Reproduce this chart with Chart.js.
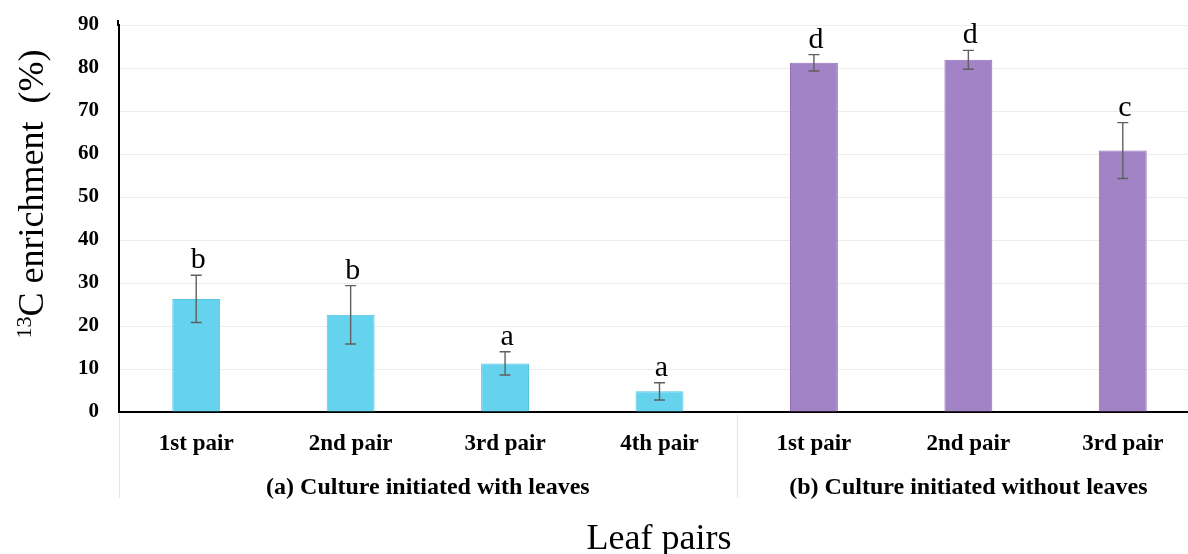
<!DOCTYPE html>
<html>
<head>
<meta charset="utf-8">
<script src="https://cdn.jsdelivr.net/npm/chart.js@4/dist/chart.umd.min.js"></script>
<style>
  html, body { margin: 0; padding: 0; background: #fff; overflow: hidden; }
  #wrap { width: 1210px; height: 554px; }
</style>
</head>
<body>
<div id="wrap"><canvas id="c" width="1210" height="554"></canvas></div>
<script>
// Leaf pair categories and the two culture groups they belong to
const categories = ['1st pair', '2nd pair', '3rd pair', '4th pair', '1st pair', '2nd pair', '3rd pair'];
const groupLabels = ['(a) Culture initiated with leaves', '(b) Culture initiated without leaves'];
const groupSizes = [4, 3];

// 13C enrichment (%) — culture initiated with leaves
const withLeaves = [26.3, 22.6, 11.3, 4.8];
const withLeavesErr = [5.5, 6.8, 2.7, 2.0];
const withLeavesLetters = ['b', 'b', 'a', 'a'];

// 13C enrichment (%) — culture initiated without leaves
const withoutLeaves = [81.2, 81.9, 60.8];
const withoutLeavesErr = [1.9, 2.2, 6.5];
const withoutLeavesLetters = ['d', 'd', 'c'];

const yTicks = [0, 10, 20, 30, 40, 50, 60, 70, 80, 90];

const SERIF = '"Liberation Serif", "Times New Roman", serif';

// Pad each series to full category length so each bar sits in its own slot
const padA = withLeaves.concat(new Array(withoutLeaves.length).fill(null));
const padB = new Array(withLeaves.length).fill(null).concat(withoutLeaves);
const errA = withLeavesErr.concat(new Array(withoutLeaves.length).fill(null));
const errB = new Array(withLeaves.length).fill(null).concat(withoutLeavesErr);
const letA = withLeavesLetters.concat(new Array(withoutLeaves.length).fill(null));
const letB = new Array(withLeaves.length).fill(null).concat(withoutLeavesLetters);

// Error bars, significance letters, group labels and axis titles
const annotations = {
  id: 'annotations',
  afterDatasetsDraw(chart) {
    const ctx = chart.ctx;
    const y = chart.scales.y;
    const x = chart.scales.x;
    ctx.save();

    // value axis line runs a little past the top gridline
    ctx.strokeStyle = '#000';
    ctx.lineWidth = 2;
    ctx.beginPath();
    ctx.moveTo(y.right - 1, y.top - 5);
    ctx.lineTo(y.right - 1, y.top + 1);
    ctx.stroke();

    chart.data.datasets.forEach((ds, di) => {
      const meta = chart.getDatasetMeta(di);
      ds.data.forEach((v, i) => {
        if (v == null) return;
        const bar = meta.data[i];
        const e = ds.errors[i];
        const yTop = y.getPixelForValue(v + e);
        const yBot = y.getPixelForValue(v - e);
        ctx.strokeStyle = '#5f5f5f';
        ctx.lineWidth = 1.4;
        ctx.beginPath();
        ctx.moveTo(bar.x, yTop); ctx.lineTo(bar.x, yBot);
        ctx.moveTo(bar.x - 5.5, yTop); ctx.lineTo(bar.x + 5.5, yTop);
        ctx.moveTo(bar.x - 5.5, yBot); ctx.lineTo(bar.x + 5.5, yBot);
        ctx.stroke();
        ctx.fillStyle = '#000';
        ctx.font = '30px ' + SERIF;
        ctx.textAlign = 'center';
        ctx.textBaseline = 'alphabetic';
        ctx.fillText(ds.letters[i], bar.x + 2, yTop - 7);
      });
    });

    // category separators and group labels below the axis
    const step = x.getPixelForValue(1) - x.getPixelForValue(0);
    let start = 0;
    const bounds = [x.getPixelForValue(0) - step / 2];
    groupSizes.forEach(n => {
      start += n;
      bounds.push(x.getPixelForValue(start - 1) + step / 2);
    });
    ctx.strokeStyle = '#e4e4e4';
    ctx.lineWidth = 1;
    ctx.beginPath();
    bounds.forEach(b => {
      const bx = Math.round(b) + 0.5;
      ctx.moveTo(bx, y.bottom + 2);
      ctx.lineTo(bx, 498);
    });
    ctx.stroke();
    ctx.fillStyle = '#000';
    ctx.font = 'bold 24px ' + SERIF;
    ctx.textAlign = 'center';
    ctx.textBaseline = 'alphabetic';
    groupLabels.forEach((g, gi) => {
      ctx.fillText(g, (bounds[gi] + bounds[gi + 1]) / 2, 494);
    });

    // x axis title
    ctx.font = '36px ' + SERIF;
    ctx.fillText('Leaf pairs', 659, 549);

    // y axis title with superscript mass number
    ctx.translate(43, 194);
    ctx.rotate(-Math.PI / 2);
    const main = 'C enrichment  (%)';
    ctx.font = '36px ' + SERIF;
    const wMain = ctx.measureText(main).width;
    ctx.font = '22px ' + SERIF;
    const wSup = ctx.measureText('13').width;
    const total = wMain + wSup;
    ctx.textAlign = 'left';
    ctx.fillText('13', -total / 2, -12);
    ctx.font = '36px ' + SERIF;
    ctx.fillText(main, -total / 2 + wSup, 0);
    ctx.restore();
  }
};

new Chart(document.getElementById('c'), {
  type: 'bar',
  data: {
    labels: categories,
    datasets: [
      {
        label: 'With leaves',
        data: padA,
        errors: errA,
        letters: letA,
        backgroundColor: '#66d3ee',
        borderColor: '#52c4e4',
        borderWidth: 1,
        grouped: false,
        barPercentage: 0.31,
        categoryPercentage: 1
      },
      {
        label: 'Without leaves',
        data: padB,
        errors: errB,
        letters: letB,
        backgroundColor: '#a283c6',
        borderColor: '#8f6fba',
        borderWidth: 1,
        grouped: false,
        barPercentage: 0.31,
        categoryPercentage: 1
      }
    ]
  },
  options: {
    responsive: false,
    animation: false,
    layout: { padding: { top: 25, right: 10, left: 0, bottom: 0 } },
    plugins: { legend: { display: false }, tooltip: { enabled: false } },
    scales: {
      x: {
        grid: { display: false, drawTicks: false },
        border: { display: true, color: '#000', width: 2 },
        ticks: {
          color: '#000',
          font: { family: SERIF, size: 23, weight: 'bold' },
          padding: 18,
          maxRotation: 0,
          autoSkip: false
        },
        afterFit(scale) { scale.height = 142; }
      },
      y: {
        min: 0,
        max: 90,
        afterBuildTicks(scale) { scale.ticks = yTicks.map(v => ({ value: v })); },
        grid: { color: '#ececec', lineWidth: 1, drawTicks: false },
        border: { display: true, color: '#000', width: 2 },
        ticks: {
          color: '#000',
          font: { family: SERIF, size: 21, weight: 'bold' },
          padding: 20
        },
        afterFit(scale) {
          scale.width = 119;
          scale.paddingTop = 0;
          scale.paddingBottom = 0;
        }
      }
    }
  },
  plugins: [annotations]
});
</script>
</body>
</html>
